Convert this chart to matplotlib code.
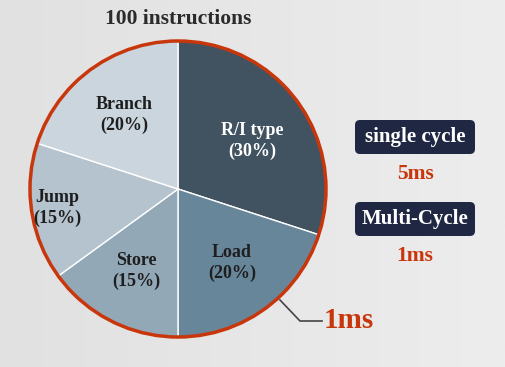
import numpy as np
import matplotlib.pyplot as plt
from matplotlib.patches import FancyBboxPatch, Circle
from matplotlib.colors import LinearSegmentedColormap

labels = ["R/I type", "Load", "Store", "Jump", "Branch"]
shares = [30, 20, 15, 15, 20]
colors = ["#415361", "#68869a", "#93a8b7", "#b4c3ce", "#cad5de"]
title = "100 instructions"
modes = ["single cycle", "Multi-Cycle"]
mode_times = ["5ms", "1ms"]
callout = "1ms"

plt.rcParams['font.family'] = ['Liberation Serif', 'DejaVu Serif']
red = "#c8360c"
navy = "#1f2742"

fig = plt.figure(figsize=(5.05, 3.67), dpi=100)
ax = fig.add_axes([0, 0, 1, 1])

cx, cy, r = 178, 178, 148
wedges, texts = ax.pie(shares, colors=colors, startangle=90, counterclock=False,
                       center=(cx, cy), radius=r, labeldistance=0.62,
                       labels=[f"{l}\n({s}%)" for l, s in zip(labels, shares)],
                       wedgeprops=dict(edgecolor='white', linewidth=1),
                       textprops=dict(fontsize=13, fontweight='bold', ha='center', va='center',
                                      linespacing=1.3))
for w in wedges:
    w.set_zorder(2)
for t, c in zip(texts, colors):
    t.set_zorder(4)
    t.set_color('white' if c == colors[0] else '#1e1e1e')
    t.set_horizontalalignment('center')
# Jump label sits further out, R/I label a bit lower
jx, jy = texts[3].get_position()
texts[3].set_position((cx + (jx - cx) * 1.33, cy + (jy - cy) * 1.33))
rx, ry = texts[0].get_position()
texts[0].set_position((rx, ry - 6))

ax.axis('off')

# soft gray background
grad = np.linspace(0, 1, 256).reshape(1, -1)
ax.imshow(grad, extent=[0, 505, 0, 367],
          cmap=LinearSegmentedColormap.from_list('bg', ["#e1e1e1", "#ededed"]),
          aspect='auto', zorder=0)

ax.add_patch(Circle((cx, cy), r, fill=False, edgecolor=red, linewidth=2.5, zorder=3))

ax.text(cx, 348, title, fontsize=15.5, fontweight='bold', color='#2b2b2b',
        ha='center', va='center')

# leader line to the callout
ax.plot([280, 300, 322], [67, 46, 46], color='#444444', lw=1.2, zorder=3)
ax.text(324, 46, callout, fontsize=21, fontweight='bold', color=red, ha='left', va='center')

for i, (m, t) in enumerate(zip(modes, mode_times)):
    yc = 230 - i * 82
    ax.add_patch(FancyBboxPatch((355, yc - 17), 120, 34, boxstyle="round,pad=0,rounding_size=5",
                                facecolor=navy, edgecolor='none', zorder=3))
    ax.text(415, yc, m, fontsize=15, fontweight='bold', color='white',
            ha='center', va='center', zorder=4)
    ax.text(415, yc - 37, t, fontsize=15.5, fontweight='bold', color=red,
            ha='center', va='center', zorder=4)

ax.set_xlim(0, 505)
ax.set_ylim(0, 367)
ax.set_aspect('equal')
fig.savefig("out.png", dpi=100)
